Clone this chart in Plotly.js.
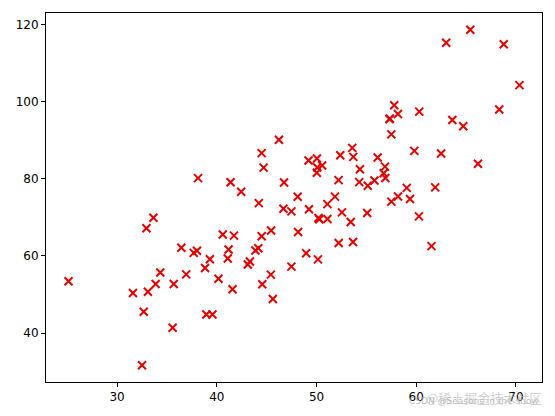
<!DOCTYPE html>
<html>
<head>
<meta charset="utf-8">
<script src="https://cdn.plot.ly/plotly-3.0.1.min.js"></script>
<style>html,body{margin:0;padding:0;background:#fff;}#chart{width:555px;height:416px;}</style>
</head>
<body>
<div id="chart"></div>
<script>
const xValues = [32.50,53.43,61.53,47.48,59.81,55.14,52.21,39.30,48.11,52.55,45.42,54.35,44.16,58.17,56.73,48.96,44.69,60.30,45.62,38.82,66.19,65.42,47.48,41.58,51.85,59.37,57.31,63.62,46.74,50.56,52.22,35.57,42.44,58.16,57.50,45.44,61.90,33.09,36.44,37.68,44.56,43.32,50.07,43.87,63.00,32.67,40.17,53.58,33.86,64.71,38.12,44.50,40.60,41.72,51.09,55.08,41.38,62.49,49.20,41.10,41.18,50.19,52.38,50.14,33.64,39.56,56.13,57.36,60.27,35.68,31.59,53.66,46.68,43.11,70.35,44.49,57.50,36.93,55.81,38.95,56.90,56.87,34.33,59.05,57.79,54.28,51.09,50.28,44.21,38.01,32.94,53.69,68.77,46.23,68.32,50.03,49.24,50.04,48.15,25.13];
const yValues = [31.71,68.78,62.56,71.55,87.23,78.21,79.64,59.17,75.33,71.30,55.17,82.48,62.01,75.39,81.44,60.72,82.89,97.38,48.85,56.88,83.88,118.59,57.25,51.39,75.38,74.77,95.46,95.23,79.05,83.43,63.36,41.41,76.62,96.77,74.08,66.59,77.77,50.72,62.12,60.81,52.68,58.57,82.91,61.42,115.24,45.57,54.08,87.99,52.73,93.58,80.17,65.10,65.56,65.28,73.43,71.14,79.10,86.52,84.74,59.36,61.68,69.85,86.10,59.11,69.90,44.86,85.50,95.54,70.25,52.72,50.39,63.64,72.25,57.81,104.26,86.64,91.49,55.23,79.55,44.85,80.21,83.14,55.72,77.63,99.05,79.12,69.59,69.51,73.69,61.37,67.17,85.67,114.85,90.12,97.92,81.54,72.11,85.23,66.22,53.45];
const xTicks = [30,40,50,60,70];
const yTicks = [40,60,80,100,120];

const axisCommon = {
  showgrid: false, zeroline: false,
  showline: true, linecolor: '#000', linewidth: 1, mirror: true,
  ticks: 'outside', ticklen: 4, tickwidth: 1, tickcolor: '#000',
  tickfont: {family: 'DejaVu Sans', size: 12, color: '#000'}
};

Plotly.newPlot('chart', [{
  x: xValues, y: yValues, type: 'scatter', mode: 'markers',
  marker: {symbol: 'x-thin-open', size: 8, color: '#e00000', line: {width: 2, color: '#e00000'}},
  hoverinfo: 'skip'
}], {
  width: 555, height: 416,
  margin: {l: 46, r: 13, t: 13, b: 34},
  paper_bgcolor: '#fff', plot_bgcolor: '#fff',
  showlegend: false,
  xaxis: Object.assign({}, axisCommon, {range: [22.87, 72.61], tickvals: xTicks, ticktext: xTicks.map(String)}),
  yaxis: Object.assign({}, axisCommon, {range: [27.36, 122.93], tickvals: yTicks, ticktext: yTicks.map(String)}),
  annotations: [
    {text: 'CSDN @Seasons in the snow', xref: 'paper', yref: 'paper', x: 0.997, y: -0.052, xanchor: 'right', yanchor: 'middle', showarrow: false, font: {family: 'DejaVu Sans', size: 9, color: 'rgba(160,160,160,0.7)'}},
    {text: '@稀土掘金技术社区', xref: 'paper', yref: 'paper', x: 1.005, y: -0.043, xanchor: 'right', yanchor: 'middle', showarrow: false, font: {family: 'Noto Sans CJK SC', size: 13, color: 'rgba(180,180,180,0.6)'}}
  ]
}, {displayModeBar: false, staticPlot: true});
</script>
</body>
</html>
